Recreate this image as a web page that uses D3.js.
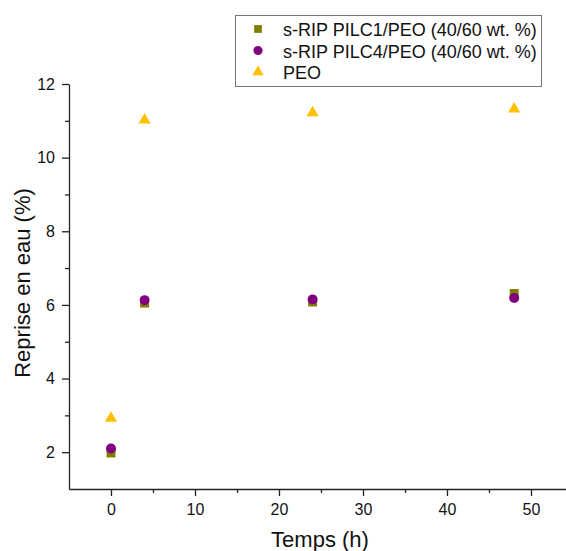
<!DOCTYPE html>
<html><head><meta charset="utf-8">
<script src="https://cdn.jsdelivr.net/npm/d3@7"></script>
<style>body{margin:0;background:#fff}svg{display:block}text{font-family:"Liberation Sans",Arial,sans-serif}</style>
</head><body>
<script>
const times = [0, 4, 24, 48];
const seriesNames = ["s-RIP PILC1/PEO (40/60 wt. %)", "s-RIP PILC4/PEO (40/60 wt. %)", "PEO"];
const pilc1 = [1.98, 6.05, 6.08, 6.31];
const pilc4 = [2.10, 6.13, 6.15, 6.19];
const peo = [2.92, 11.02, 11.22, 11.32];
const xTicks = [0, 10, 20, 30, 40, 50];
const yTicks = [2, 4, 6, 8, 10, 12];
const colors = ["#808000", "#800080", "#FFC000"];
const shapes = [d3.symbolSquare, d3.symbolCircle, d3.symbolTriangle];

const W = 566, H = 551;
const svg = d3.select("body").append("svg").attr("width", W).attr("height", H);
const x = d3.scaleLinear().domain([-5, 55]).range([69, 573]);
const y = d3.scaleLinear().domain([1, 12]).range([489, 84]);

svg.append("g").attr("transform", `translate(0,${y(1)})`)
  .call(d3.axisBottom(x).tickValues(xTicks).tickSize(7).tickSizeOuter(0).tickPadding(8));
svg.append("g").attr("transform", `translate(0,${y(1)})`)
  .call(d3.axisBottom(x).tickValues([5,15,25,35,45]).tickSize(4).tickFormat("").tickSizeOuter(0))
  .select(".domain").remove();
svg.append("g").attr("transform", `translate(${x(-5)},0)`)
  .call(d3.axisLeft(y).tickValues(yTicks).tickSize(7).tickSizeOuter(0).tickPadding(7));
svg.append("g").attr("transform", `translate(${x(-5)},0)`)
  .call(d3.axisLeft(y).tickValues([3,5,7,9,11]).tickSize(4).tickFormat("").tickSizeOuter(0))
  .select(".domain").remove();
svg.selectAll(".tick text").attr("font-size", 16).attr("fill", "#111");
svg.selectAll(".domain, .tick line").attr("stroke", "#222").attr("stroke-width", 1.3);

svg.append("text").attr("x", 320).attr("y", 547).attr("text-anchor", "middle")
  .attr("font-size", 22).attr("fill", "#111").text("Temps (h)");
svg.append("text").attr("transform", "translate(30,283) rotate(-90)").attr("text-anchor", "middle")
  .attr("font-size", 22).attr("fill", "#111").text("Reprise en eau (%)");

const all = [pilc1, pilc4, peo];
const sizes = [81, 78, 64];
all.forEach((vals, i) => {
  svg.append("g").selectAll("path").data(vals).join("path")
    .attr("transform", (d, j) => `translate(${x(times[j])},${y(d)})`)
    .attr("d", d3.symbol().type(shapes[i]).size(sizes[i]))
    .attr("fill", colors[i]);
});

const lg = svg.append("g");
lg.append("rect").attr("x", 235.5).attr("y", 15.5).attr("width", 306).attr("height", 71)
  .attr("fill", "#fff").attr("stroke", "#777").attr("stroke-width", 1);
const lsizes = [60, 66, 56];
seriesNames.forEach((n, i) => {
  const yy = 29 + i * 21.5;
  lg.append("path").attr("transform", `translate(258,${yy})`)
    .attr("d", d3.symbol().type(shapes[i]).size(lsizes[i])).attr("fill", colors[i]);
  lg.append("text").attr("x", 283).attr("y", yy + 7).attr("font-size", 18).attr("fill", "#111").text(n);
});
</script>
</body></html>
